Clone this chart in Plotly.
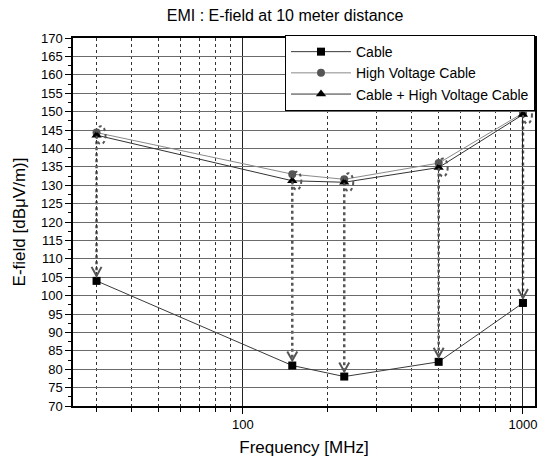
import plotly.graph_objects as go

# ---- data ----
freq = [30, 150, 230, 500, 1000]
cable = [104, 81, 78, 82, 98]
hv_cable = [144.3, 133, 131.6, 136, 149.6]
cable_hv = [143.6, 131.2, 130.8, 134.8, 149.2]
x_major = [100, 1000]
x_minor = [30, 40, 50, 60, 70, 80, 90, 200, 300, 400, 500, 600, 700, 800, 900]

title = "EMI : E-field at 10 meter distance"
x_title = "Frequency [MHz]"
y_title = "E-field [dBμV/m)]"

FONT = "Liberation Sans, Arial, sans-serif"

fig = go.Figure()
fig.add_trace(go.Scatter(
    x=freq, y=cable, name="Cable", mode="lines+markers",
    line=dict(color="#3a3a3a", width=1),
    marker=dict(symbol="square", size=8, color="black")))
fig.add_trace(go.Scatter(
    x=freq, y=hv_cable, name="High Voltage Cable", mode="lines+markers",
    line=dict(color="#8a8a8a", width=1),
    marker=dict(symbol="circle", size=8, color="#555555")))
fig.add_trace(go.Scatter(
    x=freq, y=cable_hv, name="Cable + High Voltage Cable", mode="lines+markers",
    line=dict(color="#333333", width=1),
    marker=dict(symbol="triangle-up", size=9, color="black")))

shapes = []
for f, top, bot in zip(freq, cable_hv, cable):
    shapes.append(dict(type="circle", xref="x", yref="y",
                       xsizemode="pixel", ysizemode="pixel",
                       xanchor=f, yanchor=top, x0=-9, x1=9, y0=-9, y1=9,
                       line=dict(color="#555555", width=2, dash="dot")))
    shapes.append(dict(type="line", xref="x", yref="y", x0=f, x1=f,
                       y0=top, y1=bot + 1.4, layer="below",
                       line=dict(color="#555555", width=2.5, dash="dot")))
    shapes.append(dict(type="path", xref="x", yref="y",
                       xsizemode="pixel", ysizemode="pixel",
                       xanchor=f, yanchor=bot,
                       path="M-5,14 L0,5 L5,14",
                       line=dict(color="#555555", width=2)))

fig.update_layout(
    width=544, height=460,
    margin=dict(l=73, r=9, t=38, b=54, autoexpand=False),
    paper_bgcolor="white", plot_bgcolor="white",
    font=dict(family=FONT, size=13, color="black"),
    title=dict(text=title, x=0.524, xanchor="center", y=0.967, yanchor="middle",
               font=dict(size=16, family=FONT)),
    showlegend=True,
    legend=dict(x=1, xanchor="right", y=1.008, yanchor="top",
                bgcolor="white", bordercolor="black", borderwidth=1,
                font=dict(size=14, family=FONT), tracegroupgap=0,
                itemwidth=60),
    shapes=shapes,
)

fig.update_xaxes(
    type="log", range=[1.393, 3.043], automargin=False,
    tickvals=x_major, ticktext=[str(v) for v in x_major],
    ticks="outside", ticklen=6, tickcolor="black",
    ticklabeloverflow="allow",
    showline=True, linecolor="black", linewidth=1.5, mirror=True,
    showgrid=True, gridcolor="#222222", gridwidth=1,
    minor=dict(tickvals=x_minor, ticks="outside", ticklen=4, tickcolor="black",
               showgrid=True, gridcolor="#333333", griddash="dot", gridwidth=1),
    title=dict(text=x_title, font=dict(size=17), standoff=10),
    zeroline=False, tickfont=dict(size=13),
)
fig.update_yaxes(
    range=[70, 170], dtick=5, tick0=70, automargin=False,
    ticks="outside", ticklen=6, tickcolor="black",
    showline=True, linecolor="black", linewidth=1.5, mirror=True,
    showgrid=True, gridcolor="#6a6a6a", gridwidth=1,
    minor=dict(dtick=2.5, ticks="outside", ticklen=3, tickcolor="black", showgrid=False),
    title=dict(text=y_title, font=dict(size=17), standoff=11),
    zeroline=False, tickfont=dict(size=13),
)

fig.write_html("out.html", config={"displayModeBar": False},
               post_script="document.body.style.margin='0';document.body.style.overflow='hidden';")
